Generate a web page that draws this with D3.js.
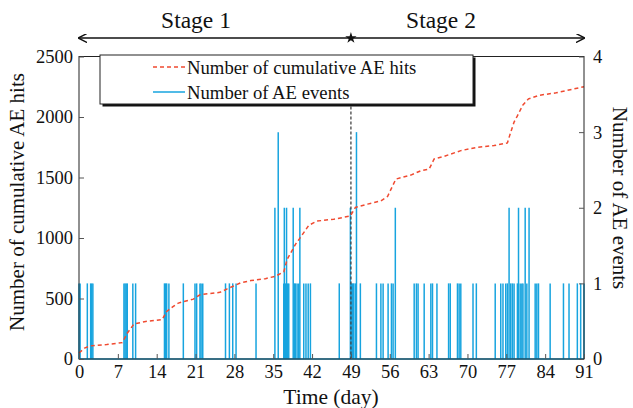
<!DOCTYPE html>
<html>
<head>
<meta charset="utf-8">
<script src="https://cdn.jsdelivr.net/npm/d3@7"></script>
<style>
  body { margin: 0; background: #fff; }
  text { font-family: "Times New Roman", "Liberation Serif", Times, serif; fill: #111; }
</style>
</head>
<body>
<div id="myChart"></div>
<script>
// Tick labels
var dayTicks = [0, 7, 14, 21, 28, 35, 42, 49, 56, 63, 70, 77, 84, 91];
var hitTicks = [0, 500, 1000, 1500, 2000, 2500];
var eventTicks = [0, 1, 2, 3, 4];

// Cumulative AE hits (red dashed line)
var hitDays = [0, 1, 2, 5, 7.8, 8.7, 9.9, 12, 15, 15.8, 17, 17.9, 20.6, 21.8, 25.4, 26.7,
               29.1, 31, 33.6, 35.4, 36.9, 37.5, 39, 40.5, 41.4, 42.9, 45.9, 48.9, 49.8,
               52, 54.4, 55.6, 57.1, 59.8, 61.6, 63.1, 64, 65.8, 68.8, 71.8, 74.8, 77.2,
               77.8, 78.4, 79, 80, 81, 83, 86, 89, 91];
var hitValues = [50, 90, 108, 120, 135, 213, 290, 310, 326, 393, 435, 462, 495, 531, 551, 579,
                 629, 648, 664, 684, 720, 822, 947, 1044, 1105, 1140, 1155, 1182, 1252,
                 1280, 1307, 1343, 1487, 1520, 1556, 1570, 1653, 1675, 1722, 1750, 1764, 1786,
                 1875, 1958, 2010, 2100, 2150, 2180, 2200, 2230, 2250];

// AE events (blue spikes)
var eventDays = [0, 0.2, 1.5, 2.1, 2.3, 2.5,
                 8.1, 8.3, 8.5, 8.7, 9.7, 10.2,
                 15.4, 15.6, 15.8, 16.2, 18.8, 20.9, 21.2, 21.8, 22.0, 22.3,
                 26.4, 27.1, 27.7, 28.3, 31.9,
                 35.3, 35.9, 36.9, 37.0, 37.2, 37.4, 37.6, 37.8, 38.6, 38.8, 39.0, 39.3, 39.6, 39.8,
                 40.5, 40.9, 41.3, 41.7,
                 46.9, 48.9, 49.1, 49.3, 49.5, 49.8, 50.0, 50.7, 53.6, 54.4, 54.8, 55.7,
                 56.3, 56.6, 57.0, 60.4, 60.8, 61.1, 62.2, 63.4, 63.7, 64.5, 66.6, 66.9,
                 68.2, 68.5, 68.8, 71.0, 71.6, 75.0, 76.0, 76.4, 76.9, 77.2, 77.5, 77.8,
                 78.1, 78.4, 79.0, 79.2, 79.5, 79.8, 80.0, 80.4, 80.7, 81.1, 82.2, 82.5,
                 82.8, 84.9, 87.3, 88.3, 89.8, 90.4, 91.0];
var eventCounts = [1, 1, 1, 1, 1, 1,
                   1, 1, 1, 1, 1, 1,
                   1, 1, 1, 1, 1, 1, 1, 1, 1, 1,
                   1, 1, 1, 1, 1,
                   2, 3, 1, 2, 1, 2, 1, 1, 2, 1, 1, 1, 1, 2,
                   1, 1, 1, 1,
                   1, 2, 1, 1, 1, 1, 3, 1, 1, 1, 1, 1,
                   1, 1, 2, 1, 1, 1, 1, 1, 1, 1, 1, 1,
                   1, 1, 1, 1, 1, 1, 1, 1, 1, 1, 2, 1,
                   1, 1, 1, 2, 1, 1, 1, 2, 1, 2, 1, 1,
                   1, 1, 1, 1, 1, 1, 1];

var stageNames = ["Stage 1", "Stage 2"];
var stageBounds = [0, 49, 91];

var W = 633, H = 408;
var margin = {top: 56.5, right: 49, bottom: 49, left: 79},
    width = W - margin.left - margin.right,
    height = H - margin.top - margin.bottom;

var serif = "'Times New Roman', 'Liberation Serif', Times, serif";

var svg = d3.select("#myChart")
  .append("svg")
    .attr("width", W)
    .attr("height", H);

var g = svg.append("g")
    .attr("transform", "translate(" + margin.left + "," + margin.top + ")");

var x = d3.scaleLinear().domain([0, 91]).range([0, width]);
var yL = d3.scaleLinear().domain([0, 2500]).range([height, 0]);
var yR = d3.scaleLinear().domain([0, 4]).range([height, 0]);

var blue = "#17a4df";

// baseline of the event series
g.append("line")
  .attr("x1", x(0)).attr("x2", x(91))
  .attr("y1", yR(0)).attr("y2", yR(0))
  .attr("stroke", blue).attr("stroke-width", 1.5);

// event spikes
g.append("g").selectAll("line")
  .data(eventDays)
  .join("line")
    .attr("x1", function(d) { return x(d); })
    .attr("x2", function(d) { return x(d); })
    .attr("y1", yR(0))
    .attr("y2", function(d, i) { return yR(eventCounts[i]); })
    .attr("stroke", blue)
    .attr("stroke-width", 1.5);

// stage divider
g.append("line")
  .attr("x1", x(49)).attr("x2", x(49))
  .attr("y1", 0).attr("y2", height)
  .attr("stroke", "#444").attr("stroke-width", 1.3)
  .attr("stroke-dasharray", "3,2");

// cumulative hits
g.append("path")
  .datum(hitDays)
  .attr("fill", "none")
  .attr("stroke", "#f04a30")
  .attr("stroke-width", 1.5)
  .attr("stroke-dasharray", "4,3")
  .attr("d", d3.line()
    .x(function(d) { return x(d); })
    .y(function(d, i) { return yL(hitValues[i]); }));

// frame
g.append("rect")
  .attr("width", width).attr("height", height)
  .attr("fill", "none").attr("stroke", "#222").attr("stroke-width", 1);

// axes, ticks pointing inward
function styleAxis(sel) {
  sel.attr("font-family", serif).attr("font-size", 18.5);
  sel.select(".domain").remove();
  sel.selectAll(".tick line").attr("stroke", "#555");
  sel.selectAll(".tick text").attr("fill", "#111").style("font-family", serif);
}
g.append("g")
  .attr("transform", "translate(0," + height + ")")
  .call(d3.axisBottom(x).tickValues(dayTicks).tickFormat(d3.format("d"))
        .tickSizeInner(-5).tickSizeOuter(0).tickPadding(6))
  .call(styleAxis);
g.append("g")
  .call(d3.axisLeft(yL).tickValues(hitTicks).tickFormat(d3.format("d"))
        .tickSizeInner(-5).tickSizeOuter(0).tickPadding(6))
  .call(styleAxis);
g.append("g")
  .attr("transform", "translate(" + width + ",0)")
  .call(d3.axisRight(yR).tickValues(eventTicks).tickFormat(d3.format("d"))
        .tickSizeInner(-5).tickSizeOuter(0).tickPadding(9))
  .call(styleAxis);

// axis titles
svg.append("text")
  .attr("x", 331).attr("y", 404)
  .attr("text-anchor", "middle")
  .style("font-size", "21.5px")
  .text("Time (day)");
svg.append("text")
  .attr("transform", "translate(24,202) rotate(-90)")
  .attr("text-anchor", "middle")
  .style("font-size", "21px")
  .text("Number of cumulative AE hits");
svg.append("text")
  .attr("transform", "translate(613,198) rotate(90)")
  .attr("text-anchor", "middle")
  .style("font-size", "21px")
  .text("Number of AE events");

// legend with drop shadow
var lg = svg.append("g");
lg.append("rect")
  .attr("x", 102.5).attr("y", 57.5).attr("width", 373).attr("height", 49)
  .attr("fill", "#111");
lg.append("rect")
  .attr("x", 100).attr("y", 55).attr("width", 373).attr("height", 49)
  .attr("fill", "#fff").attr("stroke", "#222").attr("stroke-width", 1);
lg.append("line")
  .attr("x1", 153).attr("x2", 185).attr("y1", 67).attr("y2", 67)
  .attr("stroke", "#f04a30").attr("stroke-width", 1.5).attr("stroke-dasharray", "4,3");
lg.append("text")
  .attr("x", 187).attr("y", 73.5).style("font-size", "18.7px")
  .text("Number of cumulative AE hits");
lg.append("line")
  .attr("x1", 153).attr("x2", 185).attr("y1", 92).attr("y2", 92)
  .attr("stroke", blue).attr("stroke-width", 1.5);
lg.append("text")
  .attr("x", 187).attr("y", 98.5).style("font-size", "18.7px")
  .text("Number of AE events");

// stage arrows
svg.append("defs").append("marker")
  .attr("id", "arrow")
  .attr("viewBox", "0 0 10 10")
  .attr("refX", 9).attr("refY", 5)
  .attr("markerWidth", 9).attr("markerHeight", 9)
  .attr("markerUnits", "userSpaceOnUse")
  .attr("orient", "auto-start-reverse")
  .append("path")
    .attr("d", "M0,0 L10,5 L0,10")
    .attr("fill", "none").attr("stroke", "#111").attr("stroke-width", 1.6);

var ay = 38;
var stageLabelX = [196, 441];
for (var s = 0; s < stageNames.length; s++) {
  var xa = margin.left + x(stageBounds[s]), xb = margin.left + x(stageBounds[s + 1]);
  svg.append("line")
    .attr("x1", xa).attr("x2", xb).attr("y1", ay).attr("y2", ay)
    .attr("stroke", "#111").attr("stroke-width", 1.5)
    .attr("marker-start", s === 0 ? "url(#arrow)" : null)
    .attr("marker-end", s === 1 ? "url(#arrow)" : null);
  svg.append("text")
    .attr("x", stageLabelX[s]).attr("y", 28)
    .attr("text-anchor", "middle")
    .style("font-size", "23.5px")
    .text(stageNames[s]);
}
// joint mark at the stage boundary
svg.append("path")
  .attr("transform", "translate(" + (margin.left + x(49)) + "," + ay + ")")
  .attr("d", d3.symbol().type(d3.symbolStar).size(40))
  .attr("fill", "#111");
</script>
</body>
</html>
